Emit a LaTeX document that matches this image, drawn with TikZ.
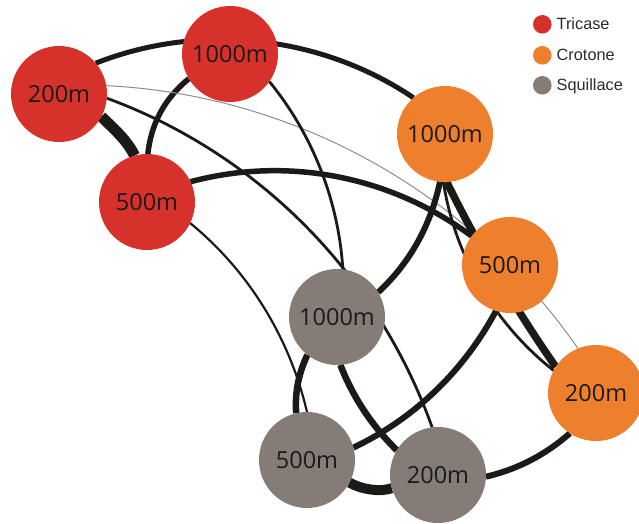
\documentclass[tikz,border=0pt]{standalone}
\usepackage{fontspec}
\setmainfont{Open Sans}
\newfontfamily\legendfont{Liberation Sans}
\pgfdeclarelayer{bg}
\pgfsetlayers{bg,main}
\definecolor{tred}{HTML}{D6322B}
\definecolor{corange}{HTML}{EE7F2D}
\definecolor{sgrey}{HTML}{857C78}
\definecolor{edgeblack}{HTML}{1A1A17}
\definecolor{thingrey}{HTML}{8C8C8C}
\definecolor{labeltext}{HTML}{1A1A1A}
\definecolor{legendtext}{HTML}{2B2B2B}
\begin{document}
\begin{tikzpicture}[x=1pt,y=-1pt,
  site/.style={circle,minimum size=96pt,inner sep=0pt,outer sep=0pt,text=labeltext,font=\fontsize{23.5}{28}\selectfont},
  tsite/.style={site,fill=tred},
  csite/.style={site,fill=corange},
  ssite/.style={site,fill=sgrey},
  link/.style={draw=edgeblack},
  faint/.style={draw=thingrey,line width=1pt},
  legdot/.style={circle,minimum size=18.6pt,inner sep=0pt,outer sep=0pt},
  legtext/.style={anchor=base west,inner sep=0pt,text=legendtext,font=\legendfont\fontsize{16.3}{19}\selectfont}
]
\useasboundingbox (0,0) rectangle (639,524);

% nodes
\node[tsite] (T200)  at (59,94)   {200m};
\node[tsite] (T1000) at (230,54)  {1000m};
\node[tsite] (T500)  at (147,202) {500m};
\node[csite] (C1000) at (445,134) {1000m};
\node[csite] (C500)  at (510,265) {500m};
\node[csite] (C200)  at (596,393) {200m};
\node[ssite] (S1000) at (337,317) {1000m};
\node[ssite] (S500)  at (307,460) {500m};
\node[ssite] (S200)  at (438,475) {200m};

% legend
\node[legdot,fill=tred]    (dT) at (542.3,24.3) {};
\node[legdot,fill=corange] (dC) at (542.3,55.3) {};
\node[legdot,fill=sgrey]   (dS) at (542.3,85.3) {};
\node[legtext] (lT) at (556.5,30) {Tricase};
\node[legtext] (lC) at (556.5,61) {Crotone};
\node[legtext] (lS) at (556.5,91) {Squillace};

% edges
\begin{pgfonlayer}{bg}
\draw[link,line width=5pt] (T200.40) .. controls +(104.6,-41.0) and +(-93.2,-62.8) .. (C1000.131);
\draw[link,line width=11pt] (T200.332) .. controls +(14,14) and +(-8,-16) .. (T500.105);
\draw[link,line width=5.5pt] (T1000.211) .. controls +(-24.1,19.5) and +(3.3,-30.7) .. (T500.89);
\draw[faint] (T200.10) .. controls +(189.1,9.1) and +(-108.0,-155.5) .. (C200.112);
\draw[link,line width=2.8pt] (T200.355) .. controls +(152.0,55.9) and +(-54.4,-152.5) .. (S200.97);
\draw[link,line width=2.8pt] (T1000.325) .. controls +(43.3,52.7) and +(-4.2,-68.1) .. (S1000.83);
\draw[link,line width=5.5pt] (T500.25) .. controls +(97.3,-25.9) and +(-80.8,-60.0) .. (C500.143);
\draw[link,line width=2.2pt] (T500.334) .. controls +(58.7,48.1) and +(-17.2,-73.9) .. (S500.90);
\draw[link,line width=6pt] (C1000.264) .. controls +(-9.1,42.9) and +(32.3,-29.8) .. (S1000.31);
\draw[link,line width=2.8pt] (C1000.268) .. controls +(11.6,74.1) and +(-59.0,-46.3) .. (C200.152);
\draw[link,line width=7.5pt] (C1000.272) .. controls +(31.8,64.3) and +(-40.9,-58.9) .. (C200.147);
\draw[link,line width=6pt] (C500.253) .. controls +(-31.9,59.6) and +(61.1,-28.9) .. (S500.15);
\draw[link,line width=6.5pt] (S1000.232) .. controls +(-8.9,18.4) and +(-1.5,-20.5) .. (S500.103);
\draw[link,line width=6.5pt] (S1000.274) .. controls +(12.5,32.1) and +(-25.3,-24.9) .. (S200.149);
\draw[link,line width=10pt] (S500.332) .. controls +(12,7) and +(-12,4) .. (S200.196);
\draw[link,line width=6pt] (S200.358) .. controls +(31.7,-7.4) and +(-24.3,21.5) .. (C200.237);
\end{pgfonlayer}
\end{tikzpicture}
\end{document}
